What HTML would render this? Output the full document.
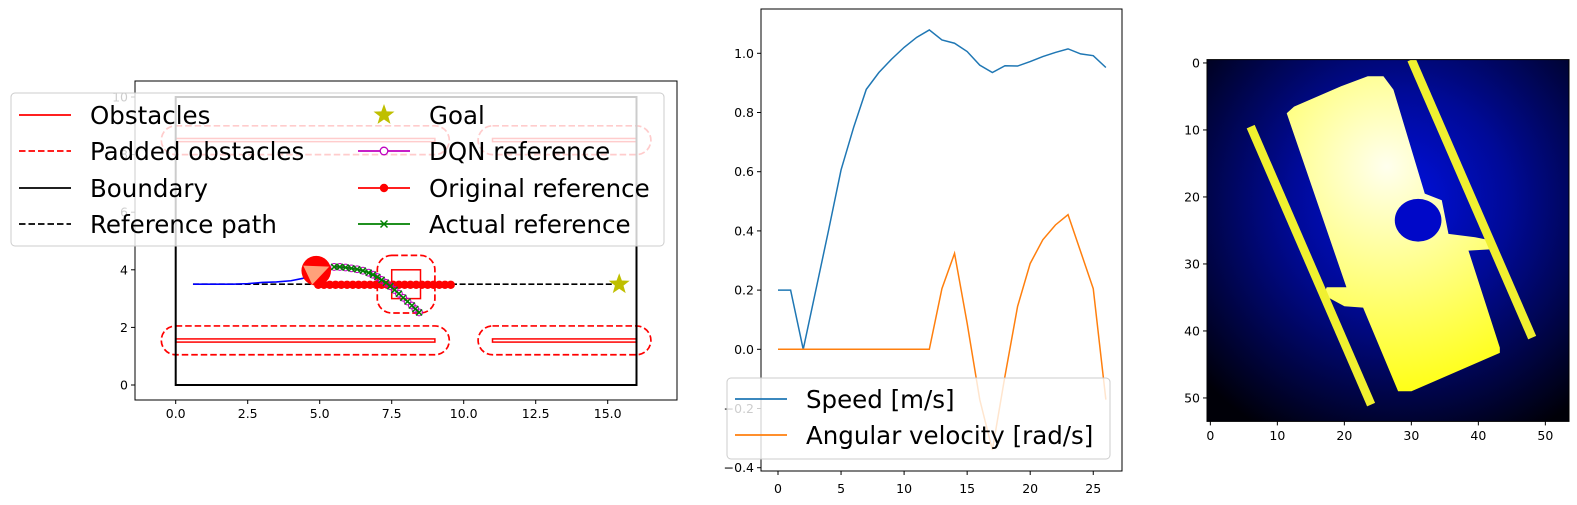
<!DOCTYPE html>
<html><head><meta charset="utf-8"><style>
html,body{margin:0;padding:0;background:#fff;}
svg{display:block;font-family:"DejaVu Sans","Liberation Sans",sans-serif;}
</style></head><body>
<svg id="fig" width="1577" height="505" viewBox="0 0 1577 505" xmlns="http://www.w3.org/2000/svg">
<defs>
<radialGradient id="bgG" gradientUnits="userSpaceOnUse" cx="720" cy="450" r="800">
<stop offset="0" stop-color="#0010e0"/><stop offset="0.4" stop-color="#000a98"/><stop offset="1" stop-color="#000008"/>
</radialGradient>
<radialGradient id="yG" gradientUnits="userSpaceOnUse" cx="680" cy="350" r="700">
<stop offset="0" stop-color="#ffffee"/><stop offset="0.5" stop-color="#ffff80"/><stop offset="1" stop-color="#ffff10"/>
</radialGradient>
<clipPath id="clipL"><rect x="135" y="81" width="542" height="319"/></clipPath>
<clipPath id="clipM"><rect x="761" y="9" width="361" height="462"/></clipPath>
</defs>
<g id="left"></g>
<g id="mid"></g>
<g id="right">
 <svg x="1207" y="59.6" width="362" height="361.8" viewBox="141 29 1085.4 1085.4" preserveAspectRatio="none">
  <rect x="141" y="29" width="1086" height="1086" fill="url(#bgG)"/>
  <polygon fill="url(#yG)" points="623,79 670,79 700,119 794,431 845,451 865,552 945,562 995,572 995,598 925,602 1019,893 1019,909 754,1024 714,1024 609,773 553,769 490,735 500,712 559,712 380,190 402,170 543,109"/>
  <ellipse cx="774" cy="511" rx="70" ry="64" fill="#0008c8"/>
  <line x1="754" y1="29" x2="1116" y2="863" stroke="#f0f030" stroke-width="26"/>
  <line x1="272" y1="230" x2="633" y2="1064" stroke="#f0f030" stroke-width="26"/>
 </svg>
 <rect x="1207" y="59.6" width="362" height="361.8" fill="none" stroke="#000" stroke-width="1"/>
</g>
</svg>
<script>
// ---------- left panel data ----------
const xTicksL = [0, 2.5, 5, 7.5, 10, 12.5, 15];
const xTickLabelsL = ["0.0","2.5","5.0","7.5","10.0","12.5","15.0"];
const yTicksL = [0, 2, 4, 6, 8, 10];
const trajX = [0.6, 1.0, 2.0, 2.5, 3.0, 3.5, 4.0, 4.4, 4.7, 4.88];
const trajY = [3.5, 3.5, 3.5, 3.52, 3.56, 3.58, 3.62, 3.7, 3.82, 3.95];
const refPathX = [0.6, 15.4];
const refPathY = [3.5, 3.5];
const origRefX = [4.95,5.15,5.35,5.55,5.75,5.95,6.15,6.35,6.55,6.75,6.95,7.15,7.35,7.55,7.75,7.95,8.15,8.35,8.55,8.75,8.95,9.15,9.35,9.55];
const origRefY = [3.48,3.48,3.48,3.48,3.48,3.48,3.48,3.48,3.48,3.48,3.48,3.48,3.48,3.48,3.48,3.48,3.48,3.48,3.48,3.48,3.48,3.48,3.48,3.48];
const dqnX = [5.5,5.7,5.9,6.1,6.3,6.5,6.7,6.85,7.0,7.15,7.3,7.45,7.6,7.75,7.9,8.05,8.2,8.32,8.45];
const dqnY = [4.1,4.1,4.08,4.05,4.02,3.97,3.9,3.83,3.75,3.65,3.55,3.43,3.3,3.17,3.03,2.9,2.76,2.64,2.52];
const goal = [15.4, 3.5];
const robot = [4.88, 3.97];
// obstacles: [x0, x1, y0, y1]
const obsRects = [[0,9,1.49,1.6],[11,16,1.49,1.6],[0,9,8.45,8.56],[11,16,8.45,8.56],[7.5,8.5,3.0,4.0]];
const padRects = [[-0.5,9.5,1.05,2.05],[10.5,16.5,1.05,2.05],[-0.5,9.5,8.0,9.0],[10.5,16.5,8.0,9.0],[7.0,9.0,2.5,4.5]];

// ---------- middle panel data ----------
const speed = [0.2,0.2,0.0,0.2,0.4,0.606,0.75,0.878,0.935,0.98,1.02,1.054,1.079,1.045,1.034,1.006,0.96,0.935,0.958,0.957,0.972,0.989,1.003,1.015,0.998,0.992,0.952];
const angVel = [0,0,0,0,0,0,0,0,0,0,0,0,0,0.205,0.324,0.088,-0.17,-0.34,-0.09,0.145,0.29,0.37,0.42,0.455,0.33,0.205,-0.17];
const xTicksM = [0,5,10,15,20,25];
const yTicksM = [-0.4,-0.2,0.0,0.2,0.4,0.6,0.8,1.0];
const yTickLabelsM = ["\u22120.4","\u22120.2","0.0","0.2","0.4","0.6","0.8","1.0"];

// ---------- right panel ticks ----------
const imgTicks = [0,10,20,30,40,50];

const NS = "http://www.w3.org/2000/svg";
const TF = 12.5;
const LF = 24.5;
function mk(parent, tag, attrs, text){
  const e = document.createElementNS(NS, tag);
  for (const k in attrs) e.setAttribute(k, attrs[k]);
  if (text !== undefined) e.textContent = text;
  parent.appendChild(e);
  return e;
}
const L = document.getElementById('left');
const M = document.getElementById('mid');
const R = document.getElementById('right');
const lx = v => 175.7 + v * 28.8;
const ly = v => 385 - v * 28.8;
const mx = i => 778 + i * 12.61;
const my = v => 349.3 - v * 296;

// ===== LEFT =====
const gL = mk(L, 'g', {'clip-path':'url(#clipL)'});
padRects.forEach(r => {
  const e = mk(gL, 'rect', {x:lx(r[0]), y:ly(r[3]), width:lx(r[1])-lx(r[0]), height:ly(r[2])-ly(r[3]), rx:14.4, fill:'none', stroke:'#ff0000', 'stroke-width':1.7, 'stroke-dasharray':'6.5,3'});
  
  
});
obsRects.forEach(r => {
  const e = mk(gL, 'rect', {x:lx(r[0]), y:ly(r[3]), width:lx(r[1])-lx(r[0]), height:ly(r[2])-ly(r[3]), fill:'none', stroke:'#ff0000', 'stroke-width':1.5});
  
  
});
const bnd = mk(gL, 'rect', {x:lx(0), y:ly(10), width:lx(16)-lx(0), height:ly(0)-ly(10), fill:'none', stroke:'#000', 'stroke-width':2});


const rp = mk(gL, 'line', {x1:lx(refPathX[0]), y1:ly(refPathY[0]), x2:lx(refPathX[1]), y2:ly(refPathY[1]), stroke:'#000', 'stroke-width':1.6, 'stroke-dasharray':'6,2.6'});


const tp = mk(gL, 'polyline', {points: trajX.map((x,i)=>lx(x)+','+ly(trajY[i])).join(' '), fill:'none', stroke:'#0000ff', 'stroke-width':1.6});


mk(gL, 'polyline', {points: origRefX.map((x,i)=>lx(x)+','+ly(origRefY[i])).join(' '), fill:'none', stroke:'#ff0000', 'stroke-width':1.5});
origRefX.forEach((x,i) => {
  const c = mk(gL, 'circle', {cx:lx(x), cy:ly(origRefY[i]), r:4.2, fill:'#ff0000'});
  
  
});
mk(gL, 'polyline', {points: dqnX.map((x,i)=>lx(x)+','+ly(dqnY[i])).join(' '), fill:'none', stroke:'#bf00bf', 'stroke-width':1.5});
dqnX.forEach((x,i) => {
  const c = mk(gL, 'circle', {cx:lx(x), cy:ly(dqnY[i]), r:3.4, fill:'none', stroke:'#bf00bf', 'stroke-width':1});
  
  
});
mk(gL, 'polyline', {points: dqnX.map((x,i)=>lx(x)+','+ly(dqnY[i])).join(' '), fill:'none', stroke:'#008000', 'stroke-width':1.5});
dqnX.forEach((x,i) => {
  const X = lx(x), Y = ly(dqnY[i]);
  const p = mk(gL, 'path', {d:`M${X-3},${Y-3}L${X+3},${Y+3}M${X-3},${Y+3}L${X+3},${Y-3}`, stroke:'#008000', 'stroke-width':1.5});
  
  
});
const rb = mk(gL, 'circle', {cx:lx(robot[0]), cy:ly(robot[1]), r:14.8, fill:'#ff0000'});


const rcx = lx(robot[0]), rcy = ly(robot[1]);
const tri = mk(gL, 'polygon', {points:`${rcx-13},${rcy-5} ${rcx+13},${rcy-4} ${rcx-4},${rcy+14}`, fill:'#ffa07a'});


const gs = lx(goal[0]), gy = ly(goal[1]);
let sp = [];
for (let k = 0; k < 10; k++) { const a = -Math.PI/2 + k*Math.PI/5; const rr = k%2 ? 4.5 : 11; sp.push((gs+rr*Math.cos(a))+','+(gy+rr*Math.sin(a))); }
const st = mk(gL, 'polygon', {points: sp.join(' '), fill:'#bfbf00'});


// frame and ticks
mk(L, 'rect', {x:135, y:81, width:542, height:319, fill:'none', stroke:'#000', 'stroke-width':1});
xTicksL.forEach((t,i) => {
  mk(L, 'line', {x1:lx(t), y1:400, x2:lx(t), y2:404, stroke:'#000'});
  const e = mk(L, 'text', {x:lx(t), y:418, 'font-size':TF, 'text-anchor':'middle'}, xTickLabelsL[i]);
  
  
});
yTicksL.forEach(t => {
  mk(L, 'line', {x1:131, y1:ly(t), x2:135, y2:ly(t), stroke:'#000'});
  const e = mk(L, 'text', {x:128, y:ly(t)+4.5, 'font-size':TF, 'text-anchor':'end'}, String(t));
  
  
});
// legend
const lg = mk(L, 'g', {});


mk(lg, 'rect', {x:11, y:93, width:653, height:153, rx:4, fill:'#fff', 'fill-opacity':0.8, stroke:'#cccccc'});
const legL = [
  ['Obstacles', 'solid', '#ff0000', 19, 90, 115],
  ['Padded obstacles', 'dash', '#ff0000', 19, 90, 151],
  ['Boundary', 'solid', '#000', 19, 90, 188],
  ['Reference path', 'dash', '#000', 19, 90, 224],
  ['Goal', 'star', '#bfbf00', 358, 429, 115],
  ['DQN reference', 'circ', '#bf00bf', 358, 429, 151],
  ['Original reference', 'dot', '#ff0000', 358, 429, 188],
  ['Actual reference', 'x', '#008000', 358, 429, 224]
];
legL.forEach(e => {
  const [txt, kind, col, hx, tx, y] = e;
  const g = mk(lg, 'g', {});
  
  
  const cx = hx + 26;
  if (kind !== 'star') mk(g, 'line', {x1:hx, y1:y, x2:hx+52, y2:y, stroke:col, 'stroke-width':1.8, 'stroke-dasharray': kind==='dash' ? '6.5,3' : 'none'});
  if (kind === 'star') {
    let p = [];
    for (let k = 0; k < 10; k++) { const a = -Math.PI/2 + k*Math.PI/5; const rr = k%2 ? 4.5 : 11; p.push((cx+rr*Math.cos(a))+','+(y+rr*Math.sin(a))); }
    mk(g, 'polygon', {points:p.join(' '), fill:col});
  }
  if (kind === 'circ') mk(g, 'circle', {cx:cx, cy:y, r:3.8, fill:'#fff', stroke:col, 'stroke-width':1.3});
  if (kind === 'dot') mk(g, 'circle', {cx:cx, cy:y, r:4.2, fill:col});
  if (kind === 'x') mk(g, 'path', {d:`M${cx-3.5},${y-3.5}L${cx+3.5},${y+3.5}M${cx-3.5},${y+3.5}L${cx+3.5},${y-3.5}`, stroke:col, 'stroke-width':1.5});
  mk(g, 'text', {x:tx, y:y+9, 'font-size':LF}, txt);
});

// ===== MIDDLE =====
const gM = mk(M, 'g', {'clip-path':'url(#clipM)'});
const spLine = mk(gM, 'polyline', {points: speed.map((v,i)=>mx(i)+','+my(v)).join(' '), fill:'none', stroke:'#1f77b4', 'stroke-width':1.5});


const avLine = mk(gM, 'polyline', {points: angVel.map((v,i)=>mx(i)+','+my(v)).join(' '), fill:'none', stroke:'#ff7f0e', 'stroke-width':1.5});


mk(M, 'rect', {x:761, y:9, width:361, height:462, fill:'none', stroke:'#000', 'stroke-width':1});
xTicksM.forEach(t => {
  mk(M, 'line', {x1:mx(t), y1:471, x2:mx(t), y2:475, stroke:'#000'});
  const e = mk(M, 'text', {x:mx(t), y:493, 'font-size':TF, 'text-anchor':'middle'}, String(t));
  
  
});
yTicksM.forEach((t,i) => {
  mk(M, 'line', {x1:757, y1:my(t), x2:761, y2:my(t), stroke:'#000'});
  const e = mk(M, 'text', {x:754, y:my(t)+4.5, 'font-size':TF, 'text-anchor':'end'}, yTickLabelsM[i]);
  
  
});
const lgM = mk(M, 'g', {});


mk(lgM, 'rect', {x:727, y:378, width:383, height:81, rx:4, fill:'#fff', 'fill-opacity':0.8, stroke:'#cccccc'});
[['Speed [m/s]', '#1f77b4', 399], ['Angular velocity [rad/s]', '#ff7f0e', 435]].forEach(e => {
  const g = mk(lgM, 'g', {});
  
  
  mk(g, 'line', {x1:735, y1:e[2], x2:787, y2:e[2], stroke:e[1], 'stroke-width':1.8});
  mk(g, 'text', {x:806, y:e[2]+9, 'font-size':LF}, e[0]);
});

// ===== RIGHT =====
const ix = t => 1207 + (t + 0.5) * 6.7;
const iy = t => 59.6 + (t + 0.5) * 6.7;
imgTicks.forEach(t => {
  mk(R, 'line', {x1:ix(t), y1:421.4, x2:ix(t), y2:425.4, stroke:'#000'});
  const a = mk(R, 'text', {x:ix(t), y:440, 'font-size':TF, 'text-anchor':'middle'}, String(t));
  
  
  mk(R, 'line', {x1:1203, y1:iy(t), x2:1207, y2:iy(t), stroke:'#000'});
  const b = mk(R, 'text', {x:1200, y:iy(t)+4.5, 'font-size':TF, 'text-anchor':'end'}, String(t));
  
  
});
</script>
</body></html>
